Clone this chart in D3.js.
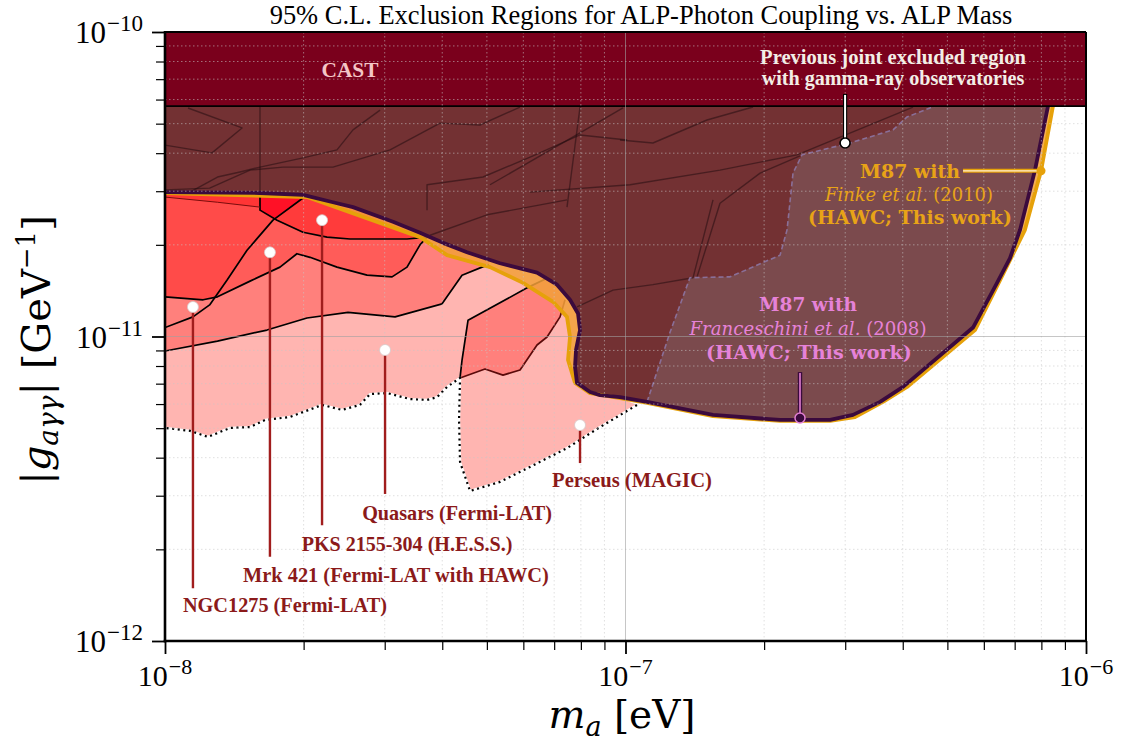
<!DOCTYPE html>
<html><head><meta charset="utf-8">
<script src="https://cdn.jsdelivr.net/npm/d3@7"></script>
<style>body{margin:0;background:#fff}</style>
</head><body>
<svg id="c" width="1121" height="746"></svg>
<script>
// ---------------- DATA ----------------
// mass in units of 1e-8 eV, coupling in units of 1e-11 GeV^-1
const MU = 1e-8, GU = 1e-11;
const xDomain = [1e-8, 1e-6];
const yDomain = [1e-12, 1e-10];
const xMajor = [1e-8, 1e-7, 1e-6];
const xMajorExp = ["−8", "−7", "−6"];
const yMajor = [1e-12, 1e-11, 1e-10];
const yMajorExp = ["−12", "−11", "−10"];

const castLimit = 5.71;

// M87 (HAWC) with Franceschini et al. (2008) EBL: boundary
const m87Franceschini = [[1.00,2.98],[1.608,2.96],[1.994,2.92],[2.316,2.76],[2.56,2.66],[3.127,2.38],[3.579,2.19],[4.016,2.03],[4.527,1.89],[5.339,1.74],[6.425,1.62],[7.101,1.48],[7.577,1.32],[7.887,1.19],[7.966,1.05],[7.808,0.903],[7.769,0.794],[7.848,0.704],[8.375,0.657],[8.803,0.642],[9.728,0.632],[11.14,0.610],[15.49,0.553],[21.66,0.532],[27.81,0.532],[31.19,0.553],[35.71,0.610],[40.06,0.683],[56.85,1.07],[64.10,1.50],[68.39,1.81],[71.91,2.24],[77.5,3.52],[82.70,5.71]];
// M87 (HAWC) with Finke et al. (2010) EBL: boundary
const m87Finke = [[1.00,2.96],[2.034,2.87],[3.579,2.12],[4.097,1.85],[5.079,1.69],[5.99,1.50],[6.961,1.30],[7.464,1.16],[7.577,0.996],[7.502,0.837],[7.769,0.704],[8.375,0.652],[9.728,0.628],[11.14,0.605],[15.49,0.548],[21.66,0.528],[27.81,0.528],[31.5,0.544],[36.24,0.610],[40.87,0.683],[57.4,1.05],[65.07,1.53],[73.7,2.24],[79.86,3.50],[84.77,5.71]];
// previous joint gamma-ray region: right (dashed) edge
const previousEdge = [[11.14,0.610],[12.49,1.03],[13.80,1.56],[16.87,1.57],[21.66,1.85],[22.43,2.24],[23.11,3.44],[24.17,3.95],[30.73,4.32],[38.10,4.77],[40.87,5.26],[45.84,5.63],[47.0,5.71]];

// Quasars + Perseus lower (dotted) edge
const lowerDottedEdge = [[10.59,0.596],[8.803,0.504],[7.464,0.430],[6.204,0.373],[5.339,0.333],[4.596,0.311],[4.372,0.387],[4.35,0.532],[4.372,0.731],[4.097,0.683],[3.897,0.632],[3.707,0.619],[3.405,0.623],[3.035,0.652],[2.788,0.647],[2.651,0.596],[2.423,0.574],[2.193,0.596],[1.868,0.544],[1.649,0.532],[1.53,0.504],[1.384,0.501],[1.24,0.468],[1.133,0.490],[1.00,0.501]];
const lightZoneTop = [[1.00,3.15],[9.728,3.15],[9.728,0.628]];
// inner contour lines of the blazar / cluster limits
const contourA = [[1.00,0.896],[1.30,0.966],[1.665,1.05],[2.034,1.15],[2.497,1.20],[3.159,1.16],[3.996,1.28],[4.416,1.59],[4.88,1.69],[5.05,1.72]];
const contourATop = [[5.05,3.15],[1.00,3.15]];
const contourB = [[1.00,1.35],[1.21,1.32],[1.30,1.35],[1.53,1.52],[1.777,1.69],[1.934,1.87],[2.065,1.82],[2.363,1.69],[2.746,1.59],[3.112,1.57],[3.354,1.69],[3.579,2.00],[3.725,2.14]];
const contourBTop = [[3.725,3.15],[1.00,3.15]];
const ngcEdge = [[1.00,1.07],[1.15,1.16],[1.25,1.27],[1.363,1.53],[1.507,1.92],[1.716,2.41],[1.994,2.85],[2.085,2.92]];
const ngcUpperZone = [[1.00,1.35],[1.21,1.32],[1.30,1.35],[1.363,1.53],[1.507,1.92],[1.716,2.41],[1.994,2.85],[1.994,3.15],[1.00,3.15]];
const stripEdge = [[1.00,2.87],[1.30,2.76],[1.608,2.66]];
const stripTop = [[1.608,3.15],[1.00,3.15]];
const pksEdge = [[1.608,2.96],[1.608,2.60],[1.751,2.41],[1.994,2.20],[2.248,2.12],[2.522,2.09],[3.354,2.09],[3.725,2.12]];
const pksTop = [[3.725,3.15],[1.608,3.15]];
const pksNgcZone = [[1.608,3.15],[1.608,2.60],[1.734,2.43],[1.994,2.85],[1.994,3.15]];
const perseusUpperEdge = [[4.372,0.731],[4.416,0.837],[4.55,1.13],[6.142,1.45],[6.856,1.57]];
const perseusLowerEdge = [[7.391,1.32],[7.209,1.16],[6.755,0.996],[6.425,0.938],[5.901,0.776],[5.42,0.747],[4.953,0.782],[4.372,0.731]];

// faint edges of older limits seen through the joint region
const olderEdges = [
  [[1.00,4.25],[1.265,4.01],[1.47,4.84],[1.122,5.63]],
  [[1.00,3.03],[1.25,3.07],[1.53,3.52],[1.804,3.60],[2.316,3.60],[3.081,4.10],[3.956,5.02],[4.831,4.95],[5.901,5.67]],
  [[1.133,2.98],[1.30,3.34],[1.455,3.47],[1.608,3.60],[1.994,3.86],[2.363,4.10],[2.56,4.77],[2.931,5.54]],
  [[1.608,5.67],[1.608,2.96]],
  [[3.707,2.60],[3.707,3.15],[4.904,3.34],[6.298,3.92],[7.966,4.59],[10.08,4.42]],
  [[5.079,3.15],[7.966,4.66],[9.875,5.63]],
  [[6.204,2.98],[10.23,3.15],[16.04,3.52],[23.58,3.95],[42.11,5.67]],
  [[7.464,2.66],[7.966,5.67]],
  [[9.728,4.42],[11.47,4.32],[15.03,5.14],[18.92,5.67]],
  [[14.30,1.57],[16.04,2.74],[19.60,3.44],[23.93,3.92]],
  [[3.763,2.15],[5.003,2.51],[7.464,2.81]],
  [[7.848,1.25],[9.395,1.42],[11.47,1.48],[14.02,1.56],[15.49,2.81]]
];

const sourceNames = ["NGC1275 (Fermi-LAT)","Mrk 421 (Fermi-LAT with HAWC)","PKS 2155-304 (H.E.S.S.)","Quasars (Fermi-LAT)","Perseus (MAGIC)"];
const sourceMarkerM = [1.15, 1.69, 2.193, 3.005, 7.966];
const sourceMarkerG = [1.25, 1.89, 2.41, 0.903, 0.512];
const sourceLeaderEndG = [0.149, 0.189, 0.240, 0.304, 0.384];

const finkeMarker = [79.86, 3.50], finkeLeaderStartM = 54.07;
const franMarker = [23.93, 0.540], franLeaderTopG = 0.764;
const prevMarker = [29.98, 4.32], prevLeaderTopG = 6.26;

// ---------------- LAYOUT ----------------
const labelDx = [92,126,85,72,52], labelDy = [24,25,26,26,24], labelW = [204,306,211,190,160];

const svg = d3.select('#c');
const x = d3.scaleLog().domain(xDomain).range([165,1086]);
const y = d3.scaleLog().domain(yDomain).range([641,32]);
const X = d => x(d[0]*MU), Y = d => y(d[1]*GU);
const line = d3.line().x(X).y(Y);
const closed = d3.line().x(X).y(Y).curve(d3.curveLinearClosed);
const [x0,x1] = x.range(), [y0,y1] = y.range();
const xMin = xDomain[0]/MU;

svg.append('defs').append('clipPath').attr('id','clip').append('rect')
  .attr('x',x0).attr('y',y1).attr('width',x1-x0).attr('height',y0-y1);
const g = svg.append('g').attr('clip-path','url(#clip)');

function fillP(pts, col, op){ return g.append('path').attr('d',closed(pts)).attr('fill',col).attr('fill-opacity',op==null?1:op).attr('stroke','none'); }
function strokeP(pts, col, w, extra){ const p=g.append('path').attr('d',line(pts)).attr('fill','none').attr('stroke',col).attr('stroke-width',w).attr('stroke-linejoin','round'); if(extra) extra(p); return p; }

// pink zones
fillP(lightZoneTop.concat(lowerDottedEdge), '#FFB5B1');
fillP(contourA.concat(contourATop), '#FF807C');
fillP(contourB.concat(contourBTop), '#FF5C59');
fillP(ngcUpperZone, '#FF4B49');
fillP(stripEdge.concat(stripTop), '#FF3535');
fillP(pksEdge.concat(pksTop), '#FF3B3B');
fillP(pksNgcZone, '#FF1126');
fillP(perseusUpperEdge.concat(perseusLowerEdge), '#FF807C');

// contour lines
[contourA, contourB, ngcEdge, pksEdge, perseusUpperEdge].forEach(c=>strokeP(c,'#000',1.7));
strokeP(stripEdge,'#7a0d0d',1);
strokeP(perseusLowerEdge,'#5a0a0a',1.7);
strokeP(lowerDottedEdge,'#fff',2.4);
strokeP(lowerDottedEdge,'#000',2.2,p=>p.attr('stroke-dasharray','2,3.6'));

// M87 regions
const finkePoly = m87Finke.concat([[xMin, castLimit]]);
const franPoly = m87Franceschini.concat([[xMin, castLimit]]);
fillP(finkePoly, '#F2A03A', 0.85);
fillP(franPoly, '#7B4A4D');
const iJoin = m87Franceschini.findIndex(p=>p[0]===previousEdge[0][0] && p[1]===previousEdge[0][1]);
fillP(m87Franceschini.slice(0,iJoin+1).concat(previousEdge.slice(1)).concat([[xMin,castLimit]]), '#733133');
olderEdges.forEach(e=>strokeP(e,'#1e0a0e',1.4).attr('stroke-opacity',0.5));
strokeP(previousEdge,'#8a6f98',1.6,p=>p.attr('stroke-dasharray','5,3'));
strokeP(m87Finke,'#E6A10A',3.8);
strokeP(m87Franceschini,'#3B0A3D',3.8);

// CAST
g.append('rect').attr('x',x0).attr('y',y1).attr('width',x1-x0).attr('height',y(castLimit*GU)-y1).attr('fill','#7A001C');
g.append('line').attr('x1',x0).attr('x2',x1).attr('y1',y(castLimit*GU)).attr('y2',y(castLimit*GU)).attr('stroke','#000').attr('stroke-width',1.6);

// grid on top
const xAll = x.ticks(), yAll = y.ticks();
const isMajor = v => Math.abs(Math.log10(v) - Math.round(Math.log10(v))) < 1e-6;
const xMinor = xAll.filter(v=>!isMajor(v)), yMinor = yAll.filter(v=>!isMajor(v));
g.selectAll('.gx').data(xMinor).join('line').attr('x1',d=>x(d)).attr('x2',d=>x(d)).attr('y1',y1).attr('y2',y0)
  .attr('stroke','#c8c8c8').attr('stroke-width',0.8).attr('stroke-dasharray','1.5,2.5').attr('stroke-opacity',0.7);
g.selectAll('.gy').data(yMinor).join('line').attr('y1',d=>y(d)).attr('y2',d=>y(d)).attr('x1',x0).attr('x2',x1)
  .attr('stroke','#c8c8c8').attr('stroke-width',0.8).attr('stroke-dasharray','1.5,2.5').attr('stroke-opacity',0.7);
g.selectAll('.gX').data(xMajor).join('line').attr('x1',d=>x(d)).attr('x2',d=>x(d)).attr('y1',y1).attr('y2',y0)
  .attr('stroke','#a0a0a0').attr('stroke-width',1).attr('stroke-opacity',0.6);
g.selectAll('.gY').data(yMajor).join('line').attr('y1',d=>y(d)).attr('y2',d=>y(d)).attr('x1',x0).attr('x2',x1)
  .attr('stroke','#a0a0a0').attr('stroke-width',1).attr('stroke-opacity',0.6);

// annotations
function fit(t,w){ const l=t.node().getComputedTextLength(); if(l>0){ t.attr('font-size', parseFloat(t.attr('font-size'))*w/l); } return t; }
const serif = "'Liberation Serif', 'Times New Roman', serif";
const dserif = "'DejaVu Serif', serif";
const ann = svg.append('g');
function txt(cx, by, str, col, w, weight, size, fam){
  const t = ann.append('text').attr('x',cx).attr('y',by).attr('text-anchor','middle').attr('font-family',fam||serif)
    .attr('font-weight',weight||'bold').attr('font-size',size||18).attr('fill',col).text(str);
  return fit(t,w);
}

// source leaders
sourceNames.forEach((n,i)=>{
  const mx = x(sourceMarkerM[i]*MU), my = y(sourceMarkerG[i]*GU), ey = y(sourceLeaderEndG[i]*GU);
  ann.append('line').attr('x1',mx).attr('x2',mx).attr('y1',my).attr('y2',ey).attr('stroke','#A11D1D').attr('stroke-width',2.4);
  ann.append('circle').attr('cx',mx).attr('cy',my).attr('r',5.5).attr('fill','#fff').attr('stroke','#d8c8c8').attr('stroke-width',0.8);
  txt(mx+labelDx[i], ey+labelDy[i], n, '#8B1A1A', labelW[i], 'bold', 18);
});

// CAST label
txt(350, 77, 'CAST', '#F4C6C6', 57, 'bold', 18);
// previous joint
{
  const px = X(prevMarker), py = Y(prevMarker), ty = y(prevLeaderTopG*GU);
  ann.append('line').attr('x1',px).attr('x2',px).attr('y1',ty).attr('y2',py).attr('stroke','#000').attr('stroke-width',4.2);
  ann.append('line').attr('x1',px).attr('x2',px).attr('y1',ty+1).attr('y2',py).attr('stroke','#fff').attr('stroke-width',2);
  ann.append('circle').attr('cx',px).attr('cy',py).attr('r',5).attr('fill','#fff').attr('stroke','#000').attr('stroke-width',1.6);
  txt(893, 64, 'Previous joint excluded region', '#F3EEE6', 266, 'bold', 17);
  txt(893, 85, 'with gamma-ray observatories', '#F3EEE6', 263, 'bold', 17);
}
// Finke
{
  const mx = X(finkeMarker), my = Y(finkeMarker), sx = x(finkeLeaderStartM*MU);
  ann.append('line').attr('x1',sx).attr('x2',mx).attr('y1',my).attr('y2',my).attr('stroke','#E6A10A').attr('stroke-width',4);
  ann.append('line').attr('x1',sx).attr('x2',mx).attr('y1',my).attr('y2',my).attr('stroke','#FFF1D6').attr('stroke-width',1.2);
  ann.append('circle').attr('cx',mx).attr('cy',my).attr('r',4.5).attr('fill','#E6A10A');
  const col = '#E8A317';
  txt(910, 178, 'M87 with', col, 100, 'bold', 18, dserif);
  const t = ann.append('text').attr('x',909).attr('y',201).attr('text-anchor','middle').attr('font-family',dserif).attr('font-size',18).attr('fill',col);
  t.append('tspan').attr('font-style','italic').text('Finke et al.');
  t.append('tspan').text(' (2010)');
  fit(t,168);
  txt(910, 224, '(HAWC; This work)', col, 204, 'bold', 18, dserif);
}
// Franceschini
{
  const mx = X(franMarker), my = Y(franMarker), ty = y(franLeaderTopG*GU);
  ann.append('line').attr('x1',mx).attr('x2',mx).attr('y1',ty).attr('y2',my).attr('stroke','#3B0A3D').attr('stroke-width',4.4);
  ann.append('line').attr('x1',mx).attr('x2',mx).attr('y1',ty+1).attr('y2',my).attr('stroke','#E37FD3').attr('stroke-width',1.6);
  ann.append('circle').attr('cx',mx).attr('cy',my).attr('r',5).attr('fill','#3B0A3D').attr('stroke','#E37FD3').attr('stroke-width',1.5);
  const col = '#E682D8';
  txt(808, 311, 'M87 with', col, 98, 'bold', 18, dserif);
  const t = ann.append('text').attr('x',808).attr('y',335).attr('text-anchor','middle').attr('font-family',dserif).attr('font-size',18).attr('fill',col);
  t.append('tspan').attr('font-style','italic').text('Franceschini et al.');
  t.append('tspan').text(' (2008)');
  fit(t,237);
  txt(809, 359, '(HAWC; This work)', col, 206, 'bold', 18, dserif);
}

// axes ticks
const ax = svg.append('g');
function styleAxis(sel,w){ sel.select('.domain').remove(); sel.selectAll('line').attr('stroke','#000').attr('stroke-width',w); sel.selectAll('text').remove(); }
ax.append('g').attr('transform',`translate(0,${y0})`).call(d3.axisBottom(x).tickValues(xMinor).tickSize(9)).call(s=>styleAxis(s,1.2));
ax.append('g').attr('transform',`translate(0,${y0})`).call(d3.axisBottom(x).tickValues(xMajor).tickSize(13)).call(s=>styleAxis(s,1.8));
ax.append('g').attr('transform',`translate(${x0},0)`).call(d3.axisLeft(y).tickValues(yMinor).tickSize(9)).call(s=>styleAxis(s,1.2));
ax.append('g').attr('transform',`translate(${x0},0)`).call(d3.axisLeft(y).tickValues(yMajor).tickSize(13)).call(s=>styleAxis(s,1.8));
// frame
ax.append('line').attr('x1',x0).attr('x2',x1).attr('y1',y1).attr('y2',y1).attr('stroke','#000').attr('stroke-width',2);
ax.append('line').attr('x1',x1).attr('x2',x1).attr('y1',y1).attr('y2',y0).attr('stroke','#000').attr('stroke-width',2);
ax.append('line').attr('x1',x0).attr('x2',x0).attr('y1',y1-1).attr('y2',y0+1.3).attr('stroke','#000').attr('stroke-width',2.6);
ax.append('line').attr('x1',x0-1.3).attr('x2',x1+1).attr('y1',y0).attr('y2',y0).attr('stroke','#000').attr('stroke-width',2.6);

// tick labels
xMajor.forEach((v,i)=>{
  const t = ax.append('text').attr('x',x(v)).attr('y',686).attr('text-anchor','middle').attr('font-family',serif).attr('font-size',30).attr('fill','#000');
  t.append('tspan').text('10');
  t.append('tspan').attr('font-size',22).attr('dy',-12).attr('dx',1).text(xMajorExp[i]);
});
yMajor.forEach((v,i)=>{
  const t = ax.append('text').attr('x',143).attr('y',y(v)+11).attr('text-anchor','end').attr('font-family',serif).attr('font-size',31).attr('fill','#000');
  t.append('tspan').text('10');
  t.append('tspan').attr('font-size',23).attr('dy',-12).attr('dx',1).text(yMajorExp[i]);
});

// axis titles
{
  const t = ax.append('text').attr('x',622).attr('y',728).attr('text-anchor','middle').attr('font-family',dserif).attr('font-size',39).attr('fill','#000');
  t.append('tspan').attr('font-style','italic').text('m');
  t.append('tspan').attr('font-style','italic').attr('font-size',27).attr('dy',8).text('a');
  t.append('tspan').attr('dy',-8).text(' [eV]');
}
{
  const t = ax.append('text').attr('transform','translate(50,350) rotate(-90)').attr('text-anchor','middle').attr('font-family',dserif).attr('font-size',40).attr('fill','#000');
  t.append('tspan').text('|');
  t.append('tspan').attr('font-style','italic').text('g');
  t.append('tspan').attr('font-style','italic').attr('font-size',28).attr('dy',8).text('aγγ');
  t.append('tspan').attr('dy',-8).text('| [GeV');
  t.append('tspan').attr('font-size',26).attr('dy',-15).text('−1');
  t.append('tspan').attr('dy',15).text(']');
}
// title
{
  const t = ax.append('text').attr('x',641).attr('y',24).attr('text-anchor','middle').attr('font-family',serif).attr('font-size',24).attr('fill','#000')
    .text('95% C.L. Exclusion Regions for ALP-Photon Coupling vs. ALP Mass');
  fit(t,743);
}
</script>
</body></html>
